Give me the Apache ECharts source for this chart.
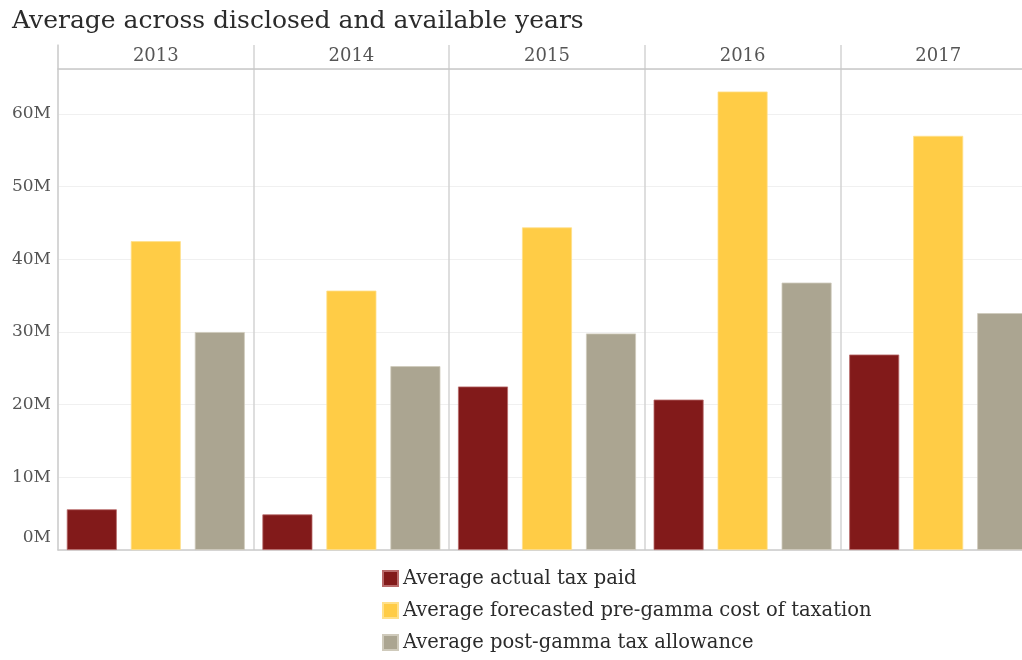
<!DOCTYPE html>
<html>
<head>
<meta charset="utf-8">
<script src="https://cdn.jsdelivr.net/npm/echarts@6/dist/echarts.min.js"></script>
<style>html,body{margin:0;padding:0;background:#fff;overflow:hidden}#c{width:1036px;height:660px}</style>
</head>
<body>
<div id="c"></div>
<script>
const years = ['2013', '2014', '2015', '2016', '2017'];
const seriesNames = ['Average actual tax paid', 'Average forecasted pre-gamma cost of taxation', 'Average post-gamma tax allowance'];
const actualTaxPaid = [5.6, 4.9, 22.5, 20.7, 26.9];
const preGammaCost = [42.5, 35.7, 44.4, 63.1, 57.0];
const postGammaAllowance = [30.0, 25.3, 29.8, 36.8, 32.6];
const yTicks = [0, 10, 20, 30, 40, 50, 60];
const colors = ['#821a1a', '#ffcc46', '#aba591'];
const borders = ['#b86a6a', '#ffe08a', '#cfcabb'];

const FONT = '"DejaVu Serif", Georgia, serif';
const chart = echarts.init(document.getElementById('c'), null, {renderer: 'canvas'});
const values = [actualTaxPaid, preGammaCost, postGammaAllowance];

chart.setOption({
  animation: false,
  backgroundColor: '#ffffff',
  title: {
    text: 'Average across disclosed and available years',
    left: 7, top: 4,
    textStyle: {fontFamily: FONT, fontSize: 25, fontWeight: 'normal', color: '#2b2b2b'}
  },
  legend: {
    orient: 'vertical',
    left: 382, top: 567, padding: 0,
    itemWidth: 15, itemHeight: 15, itemGap: 9,
    icon: 'rect',
    data: seriesNames,
    textStyle: {fontFamily: FONT, fontSize: 19.5, color: '#2b2b2b', lineHeight: 23, padding: [0,0,0,0]}
  },
  grid: [
    {left: 58, right: 0, top: 69, bottom: 110, containLabel: false},
    {left: 58, right: 0, top: 45, height: 24, containLabel: false}
  ],
  xAxis: [{
    type: 'category',
    data: years,
    position: 'top',
    axisLine: {show: true, onZero: false, lineStyle: {color: '#c8c8c8', width: 1.5}},
    axisTick: {show: false},
    axisLabel: {margin: 4, fontFamily: FONT, fontSize: 18, color: '#555'},
    splitLine: {show: true, lineStyle: {color: '#d3d3d3', width: 1.5}}
  }, {
    type: 'category',
    data: years,
    position: 'bottom',
    axisLine: {show: true, onZero: false, lineStyle: {color: '#cccccc', width: 1.5}},
    axisTick: {show: false},
    axisLabel: {show: false},
    splitLine: {show: false}
  }, {
    type: 'category',
    gridIndex: 1,
    data: years,
    position: 'bottom',
    axisLine: {show: false},
    axisTick: {show: false},
    axisLabel: {show: false},
    splitLine: {show: true, lineStyle: {color: '#d3d3d3', width: 1.5}}
  }],
  yAxis: [{
    type: 'value',
    min: 0, max: 66.2, interval: 10,
    axisLine: {show: true, lineStyle: {color: '#d3d3d3', width: 1.5}},
    axisTick: {show: false},
    axisLabel: {
      margin: 7,
      fontFamily: FONT, fontSize: 17, color: '#555',
      customValues: yTicks,
      formatter: function (v) { return v === 0 ? '{z|0M}' : v + 'M'; },
      rich: {z: {fontFamily: FONT, fontSize: 17, color: '#555', padding: [0, 0, 24, 0]}}
    },
    splitLine: {show: true, lineStyle: {color: '#f0f0f0', width: 1}}
  }, {
    type: 'value',
    gridIndex: 1,
    min: 0, max: 1,
    axisLine: {show: true, lineStyle: {color: '#d3d3d3', width: 1.5}},
    axisTick: {show: false},
    axisLabel: {show: false},
    splitLine: {show: false}
  }],
  series: seriesNames.map(function (name, i) {
    return {
      name: name,
      type: 'bar',
      xAxisIndex: 0,
      yAxisIndex: 0,
      data: values[i],
      barWidth: 50,
      barGap: '28%',
      itemStyle: {color: colors[i], borderColor: borders[i], borderWidth: 0.8}
    };
  })
});
</script>
</body>
</html>
